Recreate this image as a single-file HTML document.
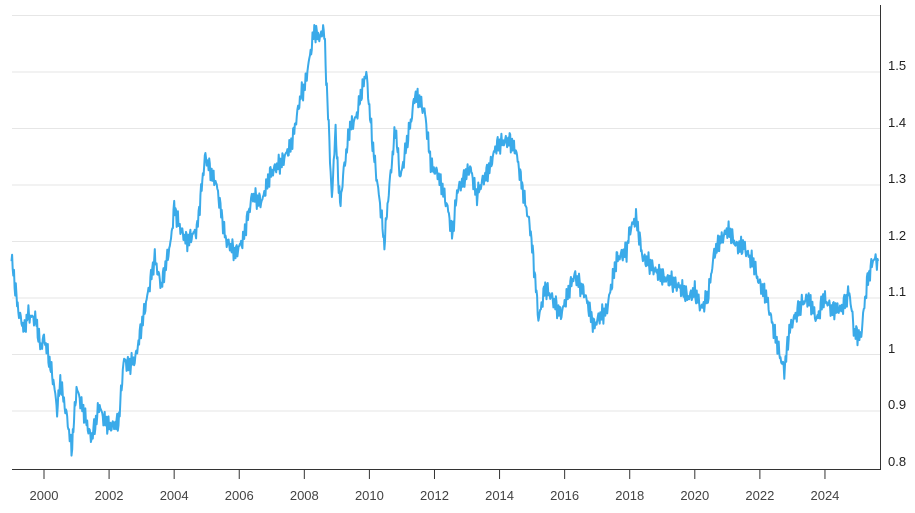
<!DOCTYPE html>
<html><head><meta charset="utf-8"><style>
html,body{margin:0;padding:0;background:#fff;}
svg{display:block;font-family:"Liberation Sans",Arial,sans-serif;}
</style></head><body>
<svg id="s" width="915" height="513" viewBox="0 0 915 513" xmlns="http://www.w3.org/2000/svg">
<g stroke="#e6e6e6" stroke-width="1">
<line x1="12" x2="880" y1="15.5" y2="15.5"/>
<line x1="12" x2="880" y1="72" y2="72"/>
<line x1="12" x2="880" y1="128.5" y2="128.5"/>
<line x1="12" x2="880" y1="185" y2="185"/>
<line x1="12" x2="880" y1="241.5" y2="241.5"/>
<line x1="12" x2="880" y1="298" y2="298"/>
<line x1="12" x2="880" y1="354.5" y2="354.5"/>
<line x1="12" x2="880" y1="411" y2="411"/>
</g>
<g fill="#222" font-size="13">
<text x="888" y="70">1.5</text>
<text x="888" y="127">1.4</text>
<text x="888" y="183">1.3</text>
<text x="888" y="240">1.2</text>
<text x="888" y="296">1.1</text>
<text x="888" y="353">1</text>
<text x="888" y="409">0.9</text>
<text x="888" y="466">0.8</text>
</g>
<line x1="880.5" x2="880.5" y1="5" y2="470" stroke="#333" stroke-width="1"/>
<line x1="12" x2="881" y1="469.5" y2="469.5" stroke="#333" stroke-width="1"/>
<g id="xt" stroke="#333"></g>
<g id="xl" fill="#444" font-size="13" text-anchor="middle"></g>
<polyline id="p" fill="none" stroke="#3aaae9" stroke-width="2" stroke-linejoin="round"/>
</svg>
<script>
var X=function(t){return 44+(t-2000)*32.54;};
var Y=function(v){return 467-(v-0.8)*565;};
var xt=document.getElementById('xt'),xl=document.getElementById('xl'),ns="http://www.w3.org/2000/svg";
for(var yr=2000;yr<=2024;yr+=2){var x=X(yr);
var l=document.createElementNS(ns,'line');l.setAttribute('x1',x);l.setAttribute('x2',x);l.setAttribute('y1',470);l.setAttribute('y2',479);xt.appendChild(l);
var t=document.createElementNS(ns,'text');t.setAttribute('x',x);t.setAttribute('y',500);t.textContent=yr;xl.appendChild(t);}
var k=[[1999.0,1.17],[1999.2,1.08],[1999.4,1.04],[1999.5,1.07],[1999.75,1.06],[1999.9,1.01],[2000.0,1.03],[2000.3,0.95],[2000.4,0.90],[2000.5,0.95],[2000.7,0.89],[2000.8,0.85],[2000.85,0.83],[2001.0,0.94],[2001.2,0.90],[2001.45,0.85],[2001.6,0.88],[2001.7,0.91],[2001.8,0.89],[2002.0,0.87],[2002.3,0.88],[2002.45,0.99],[2002.6,0.98],[2002.8,0.99],[2003.0,1.05],[2003.4,1.17],[2003.6,1.12],[2003.9,1.20],[2004.0,1.26],[2004.2,1.22],[2004.4,1.20],[2004.7,1.22],[2004.95,1.35],[2005.3,1.30],[2005.6,1.20],[2005.9,1.18],[2006.1,1.20],[2006.4,1.28],[2006.7,1.27],[2006.95,1.32],[2007.3,1.34],[2007.6,1.37],[2007.9,1.46],[2008.0,1.47],[2008.3,1.57],[2008.5,1.56],[2008.6,1.58],[2008.75,1.40],[2008.85,1.27],[2008.95,1.40],[2009.1,1.26],[2009.2,1.32],[2009.4,1.40],[2009.6,1.42],[2009.9,1.50],[2010.1,1.37],[2010.4,1.23],[2010.45,1.19],[2010.6,1.29],[2010.8,1.40],[2010.95,1.31],[2011.3,1.42],[2011.4,1.46],[2011.7,1.43],[2011.9,1.33],[2012.1,1.32],[2012.4,1.26],[2012.55,1.21],[2012.7,1.29],[2012.9,1.31],[2013.1,1.33],[2013.3,1.28],[2013.5,1.31],[2013.7,1.33],[2013.9,1.37],[2014.3,1.38],[2014.5,1.36],[2014.75,1.28],[2014.95,1.22],[2015.1,1.13],[2015.2,1.06],[2015.4,1.12],[2015.6,1.10],[2015.9,1.07],[2016.1,1.11],[2016.3,1.14],[2016.6,1.11],[2016.9,1.05],[2017.0,1.06],[2017.3,1.08],[2017.6,1.17],[2017.9,1.18],[2018.0,1.22],[2018.2,1.24],[2018.4,1.17],[2018.6,1.16],[2018.9,1.14],[2019.2,1.13],[2019.5,1.12],[2019.8,1.10],[2020.0,1.11],[2020.2,1.08],[2020.4,1.10],[2020.6,1.18],[2020.9,1.21],[2021.0,1.22],[2021.3,1.19],[2021.5,1.19],[2021.8,1.16],[2021.95,1.13],[2022.2,1.10],[2022.4,1.05],[2022.6,1.00],[2022.75,0.97],[2022.9,1.04],[2023.1,1.07],[2023.3,1.09],[2023.5,1.10],[2023.75,1.06],[2023.95,1.10],[2024.2,1.08],[2024.5,1.08],[2024.75,1.11],[2024.9,1.04],[2025.1,1.03],[2025.3,1.13],[2025.5,1.17],[2025.65,1.16]];
var pts=[],j=0;
for(var t=1999.0;t<=2025.65;t+=1/52){
while(j<k.length-2&&k[j+1][0]<t)j++;
var a=k[j],b=k[j+1],f=(t-a[0])/(b[0]-a[0]);f=Math.max(0,Math.min(1,f));
var v=a[1]+(b[1]-a[1])*f;
v+=0.009*Math.sin(t*97.3)+0.007*Math.sin(t*211.7+1.3)+0.005*Math.sin(t*53.1+0.7);
pts.push(X(t).toFixed(1)+","+Y(v).toFixed(1));}
document.getElementById('p').setAttribute('points',pts.join(' '));
</script>
</body></html>
